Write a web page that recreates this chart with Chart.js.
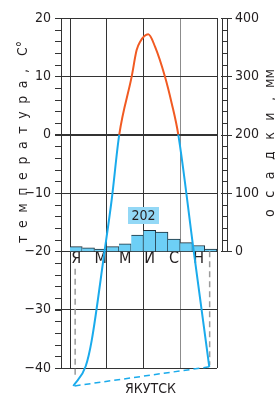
<!DOCTYPE html>
<html><head><meta charset="utf-8">
<script src="https://cdn.jsdelivr.net/npm/chart.js@4.4.1/dist/chart.umd.min.js"></script>
<style>html,body{margin:0;padding:0;background:#fff;overflow:hidden}#wrap{width:275px;height:399px;position:relative}canvas{display:block}</style>
</head><body><div id="wrap"><canvas id="c" width="275" height="399"></canvas></div>
<script>
// ---- data ----
const monthLetters = ['Я','Ф','М','А','М','И','И','А','С','О','Н','Д'];
const labelledMonths = [0, 2, 4, 6, 8, 10];
const precipitation = [8, 6, 4, 8, 13, 28, 36, 33, 21, 15, 10, 4]; // mm
const annualPrecipitation = '202';
// temperature curve (x in months from start of January, y in °C)
const tempX = [0.27, 1.28, 1.77, 2.8, 3.4, 4.02, 5.03, 5.44, 5.71, 6.39, 6.94, 7.76, 8.3, 8.84, 10.07, 11.37];
const tempY = [-43.1, -39.7, -35.3, -20.3, -11.2, 0, 9.9, 14.5, 15.9, 17.2, 15.1, 9.9, 5.4, 0, -19.5, -39.8];
// dashed month guides
const leftGuideX = 0.42, leftGuideY = [-23, -41.5];
const rightGuideX = 11.4, rightGuideY = [-20, -39.5];
const tempTicks = {min: -40, max: 20, step: 10, minor: 2};
const precipTicks = {min: -200, max: 400, step: 100, minor: 20, top: 400};
const tempTitle = ['температура,', 'С°'];
const precipTitle = ['осадки,', 'мм'];
const stationName = 'ЯКУТСК';

const FONT = "'Liberation Sans Narrow', 'Arial Narrow', 'DejaVu Sans Condensed', 'Liberation Sans', sans-serif";
const ORANGE = '#f15a22', BLUE = '#1aabec', INK = '#231f20', GRID = '#333';

// rotated title: first word letter-spaced over `span`, then unit after `gap`
function drawVerticalTitle(ctx, parts, baselineX, bottomY, span, gap, size) {
  ctx.save();
  ctx.font = size + 'px ' + FONT;
  ctx.fillStyle = INK;
  ctx.translate(baselineX, bottomY);
  ctx.rotate(-Math.PI / 2);
  ctx.textAlign = 'left'; ctx.textBaseline = 'alphabetic';
  const word = parts[0], unit = parts[1];
  const chars = Array.from(word);
  const hasLS = 'letterSpacing' in ctx;
  if (hasLS) ctx.letterSpacing = '0px';
  const w0 = ctx.measureText(word).width;
  const g = (span - w0) / (chars.length - 1);
  if (hasLS) {
    ctx.letterSpacing = g + 'px';
    ctx.fillText(word, 0, 0);
    ctx.letterSpacing = '0px';
  } else {
    let u = 0;
    chars.forEach(c => { ctx.fillText(c, u, 0); u += ctx.measureText(c).width + g; });
  }
  ctx.fillText(unit, span + gap, 0);
  ctx.restore();
}

const decor = {
  id: 'decor',
  afterDatasetsDraw(chart) {
    const {ctx, scales} = chart;
    const x = scales.x, y2 = scales.y2;
    // annual total box
    const cx = x.getPixelForValue(6.0), cy = y2.getPixelForValue(62);
    ctx.save();
    ctx.fillStyle = '#93d8f6';
    ctx.fillRect(Math.round(cx - 15.5), Math.round(cy - 8.5), 31, 17);
    ctx.fillStyle = INK;
    ctx.font = '14px ' + FONT;
    ctx.textAlign = 'center'; ctx.textBaseline = 'middle';
    ctx.fillText(annualPrecipitation, cx, cy + 1);
    ctx.restore();
  },
  afterDraw(chart) {
    const {ctx, chartArea: ca, scales} = chart;
    const y = scales.y, y2 = scales.y2;
    ctx.save();
    ctx.strokeStyle = GRID; ctx.lineWidth = 1;
    // left axis line with minor ticks
    const ax = Math.round(ca.left - 9) + 0.5;
    ctx.beginPath();
    ctx.moveTo(ax, y.getPixelForValue(tempTicks.max)); ctx.lineTo(ax, y.getPixelForValue(tempTicks.min) + 0.5);
    for (let v = tempTicks.min; v <= tempTicks.max; v += tempTicks.minor) {
      const py = Math.round(y.getPixelForValue(v)) + 0.5;
      ctx.moveTo(ca.left - 15, py); ctx.lineTo(ax, py);
    }
    ctx.stroke();
    // right precipitation ladder
    const l1 = Math.round(ca.right + 5) + 0.5, l2 = Math.round(ca.right + 10) + 0.5;
    const yTop = y2.getPixelForValue(precipTicks.top), yBot = y2.getPixelForValue(0);
    ctx.beginPath();
    ctx.moveTo(l1, yTop); ctx.lineTo(l1, yBot);
    ctx.moveTo(l2, yTop); ctx.lineTo(l2, yBot);
    for (let v = 0; v <= precipTicks.top; v += precipTicks.minor) {
      const py = Math.round(y2.getPixelForValue(v)) + 0.5;
      if (v % precipTicks.step === 0) { ctx.moveTo(ca.right + 4, py); ctx.lineTo(ca.right + 15, py); }
      else { ctx.moveTo(l1, py); ctx.lineTo(l2, py); }
    }
    ctx.stroke();
    ctx.restore();
    // titles
    drawVerticalTitle(ctx, tempTitle, 27, 243, 174, 13, 14);
    drawVerticalTitle(ctx, precipTitle, 274, 217, 120, 9, 14);
    ctx.save();
    ctx.font = '14px ' + FONT;
    ctx.fillStyle = INK;
    ctx.textAlign = 'center'; ctx.textBaseline = 'middle';
    ctx.fillText(stationName, scales.x.getPixelForValue(6.57), 389);
    ctx.restore();
  }
};

const tempData = tempX.map((v, i) => ({x: v, y: tempY[i]}));
const last = tempData.length - 1;
const noPad = s => { s.paddingTop = 0; s.paddingBottom = 0; };

new Chart(document.getElementById('c'), {
  type: 'bar',
  data: {
    datasets: [
      {
        type: 'line', data: tempData, xAxisID: 'x', yAxisID: 'y', order: 1,
        borderWidth: 2, pointRadius: 0, cubicInterpolationMode: 'monotone', clip: false,
        borderColor: BLUE,
        segment: {borderColor: c => (c.p0.parsed.y >= 0 && c.p1.parsed.y >= 0) ? ORANGE : BLUE}
      },
      {
        type: 'line', data: [tempData[last], tempData[0]], xAxisID: 'x', yAxisID: 'y', order: 2,
        borderWidth: 1.5, borderDash: [6, 4], borderColor: BLUE, pointRadius: 0, clip: false
      },
      {
        type: 'line', data: leftGuideY.map(v => ({x: leftGuideX, y: v})), xAxisID: 'x', yAxisID: 'y', order: 3,
        borderWidth: 1.5, borderDash: [6, 4], borderColor: '#9a9a9a', pointRadius: 0, clip: false
      },
      {
        type: 'line', data: rightGuideY.map(v => ({x: rightGuideX, y: v})), xAxisID: 'x', yAxisID: 'y', order: 3,
        borderWidth: 1.5, borderDash: [6, 4], borderColor: '#9a9a9a', pointRadius: 0, clip: false
      },
      {
        type: 'bar', data: precipitation.map((v, i) => ({x: i + 0.5, y: v})), xAxisID: 'x', yAxisID: 'y2', order: 5,
        backgroundColor: '#6dcff6', borderColor: '#1d2f3a',
        borderWidth: {top: 1, right: 1, left: 0, bottom: 0}, borderSkipped: false,
        barPercentage: 1, categoryPercentage: 1
      }
    ]
  },
  options: {
    responsive: false, animation: false, devicePixelRatio: 1,
    layout: {padding: {top: 18, left: 0, right: 0, bottom: 0}},
    plugins: {legend: {display: false}, tooltip: {enabled: false}},
    scales: {
      x: {
        type: 'linear', axis: 'x', position: 'bottom', min: 0, max: 12, offset: false,
        ticks: {display: false, stepSize: 3},
        grid: {offset: false, drawTicks: false, lineWidth: 1, color: c => (c.tick && c.tick.value === 9) ? '#8c8c8c' : GRID},
        border: {display: false},
        afterFit: s => { s.height = 31; }
      },
      x2: {
        type: 'linear', axis: 'x', position: {y: -20}, min: 0, max: 12, offset: false,
        grid: {display: false, drawTicks: false}, border: {display: false},
        afterBuildTicks: s => { s.ticks = labelledMonths.map(i => ({value: i + 0.5})); },
        afterFit: s => { s.height = 0; },
        ticks: {autoSkip: false, maxRotation: 0, padding: 0, color: INK,
          font: {family: FONT, size: 16, lineHeight: 1},
          callback: (v, i) => monthLetters[labelledMonths[i]]}
      },
      y: {
        type: 'linear', position: 'left', min: tempTicks.min, max: tempTicks.max,
        ticks: {stepSize: tempTicks.step, padding: 4, color: INK, font: {family: FONT, size: 14},
          callback: v => v < 0 ? '\u2212' + Math.abs(v) : String(v)},
        grid: {color: GRID, tickColor: GRID, tickLength: 15, lineWidth: c => (c.tick && c.tick.value === 0) ? 2 : 1},
        border: {display: false},
        afterFit: s => { s.width = 70; noPad(s); }
      },
      y2: {
        type: 'linear', position: 'right', min: precipTicks.min, max: precipTicks.max,
        ticks: {stepSize: precipTicks.step, padding: 0, color: INK, font: {family: FONT, size: 14},
          callback: v => v >= 0 ? String(v) : ''},
        grid: {display: false, drawTicks: true, tickLength: 18}, border: {display: false},
        afterFit: s => { s.width = 58; noPad(s); }
      }
    }
  },
  plugins: [decor]
});
</script>
</body></html>
